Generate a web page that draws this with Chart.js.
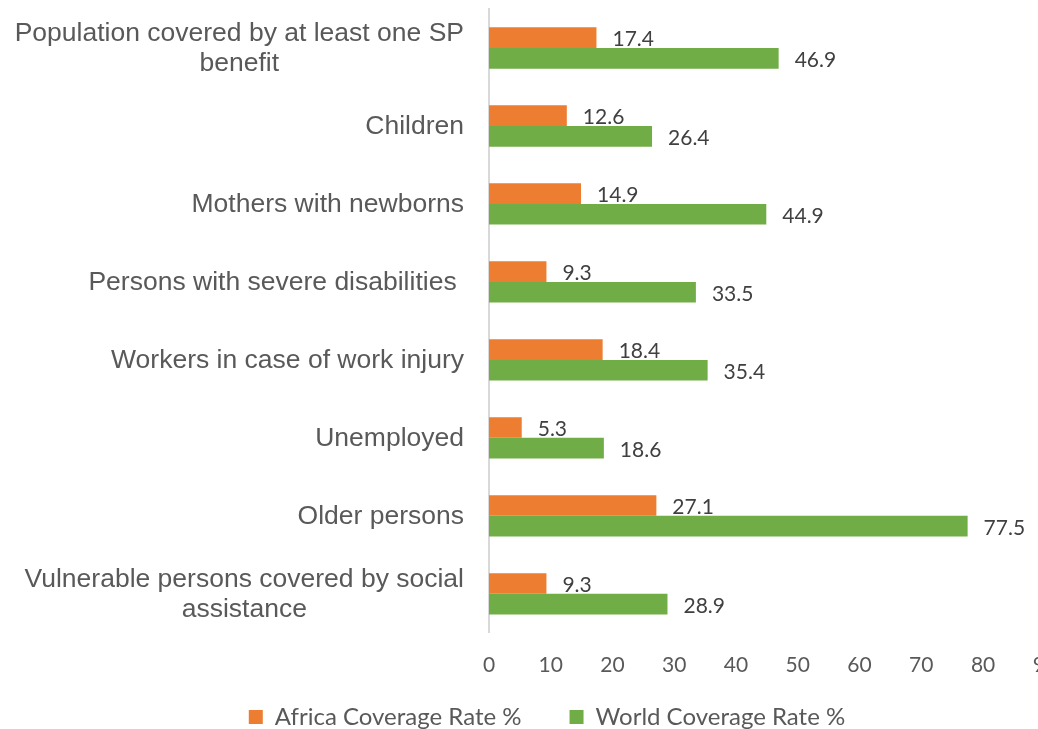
<!DOCTYPE html>
<html>
<head>
<meta charset="utf-8">
<title>Social protection coverage: Africa vs World</title>
<script src="https://cdn.jsdelivr.net/npm/chart.js@4/dist/chart.umd.min.js"></script>
<style>
  html, body { margin: 0; padding: 0; background: #ffffff; overflow: hidden; }
  #wrap { position: relative; width: 1077px; height: 780px; }
</style>
</head>
<body>
<div id="wrap"><canvas id="chart"></canvas></div>
<script>
// Coverage categories (multi-line entries are wrapped labels)
const categories = [
  ['Population covered by at least one SP', 'benefit'],
  ['Children'],
  ['Mothers with newborns'],
  ['Persons with severe disabilities '],
  ['Workers in case of work injury'],
  ['Unemployed'],
  ['Older persons'],
  ['Vulnerable persons covered by social', 'assistance']
];

// Coverage rates, in percent
const africaCoverage = [17.4, 12.6, 14.9, 9.3, 18.4, 5.3, 27.1, 9.3];
const worldCoverage  = [46.9, 26.4, 44.9, 33.5, 35.4, 18.6, 77.5, 28.9];

const seriesNames = ['Africa Coverage Rate %', 'World Coverage Rate %'];

// Value axis ticks
const xTicks = [0, 10, 20, 30, 40, 50, 60, 70, 80, 90];

const ORANGE = '#ED7D31';
const GREEN = '#70AD47';
const LABEL_GREY = '#595959';
const VALUE_GREY = '#404040';

// Category labels: right-aligned blocks, wrapped lines centred on each other
const categoryLabels = {
  id: 'categoryLabels',
  afterDraw(chart) {
    const ctx = chart.ctx;
    const yScale = chart.scales.y;
    const rightX = yScale.right - 25;
    const lineH = 30;
    ctx.save();
    ctx.font = '26.5px "Liberation Sans", Arial, sans-serif';
    ctx.fillStyle = LABEL_GREY;
    ctx.textAlign = 'center';
    ctx.textBaseline = 'middle';
    categories.forEach((lines, i) => {
      const cy = yScale.getPixelForValue(i);
      const widest = Math.max(...lines.map(l => ctx.measureText(l).width));
      const cx = rightX - widest / 2;
      const y0 = cy - (lines.length - 1) * lineH / 2;
      lines.forEach((l, k) => ctx.fillText(l, cx, y0 + k * lineH + 1));
    });
    ctx.restore();
  }
};

// Value labels at the end of each bar
const valueLabels = {
  id: 'valueLabels',
  afterDatasetsDraw(chart) {
    const ctx = chart.ctx;
    ctx.save();
    ctx.font = '21px Lato, "Open Sans", sans-serif';
    ctx.fillStyle = VALUE_GREY;
    ctx.textAlign = 'left';
    ctx.textBaseline = 'middle';
    chart.data.datasets.forEach((ds, di) => {
      const meta = chart.getDatasetMeta(di);
      meta.data.forEach((bar, j) => {
        ctx.fillText(ds.data[j].toFixed(1), bar.x + 16, bar.y + 2);
      });
    });
    ctx.restore();
  }
};

// Pull the legend row up closer to the axis labels
const legendOffset = {
  id: 'legendOffset',
  afterLayout(chart) {
    const lg = chart.legend;
    if (lg) { lg.top -= 41; lg.bottom -= 41; }
  }
};

new Chart(document.getElementById('chart'), {
  type: 'bar',
  data: {
    labels: categories.map(c => c.join(' ')),
    datasets: [
      { label: seriesNames[0], data: africaCoverage, backgroundColor: ORANGE, borderWidth: 0,
        categoryPercentage: 0.53, barPercentage: 1.0 },
      { label: seriesNames[1], data: worldCoverage, backgroundColor: GREEN, borderWidth: 0,
        categoryPercentage: 0.53, barPercentage: 1.0 }
    ]
  },
  options: {
    indexAxis: 'y',
    responsive: true,
    maintainAspectRatio: false,
    animation: false,
    layout: { padding: { top: 9, left: 17, right: 0, bottom: 0 } },
    scales: {
      x: {
        min: 0,
        max: 90,
        afterBuildTicks(scale) { scale.ticks = xTicks.map(v => ({ value: v })); },
        grid: { display: false, drawTicks: false },
        border: { display: false },
        ticks: {
          padding: 20,
          maxRotation: 0,
          color: LABEL_GREY,
          font: { family: 'Lato, "Open Sans", sans-serif', size: 21 }
        }
      },
      y: {
        afterFit(scale) { scale.width = 472; },
        grid: { display: false, drawTicks: false },
        border: { display: true, color: '#d9d9d9', width: 2 },
        ticks: { display: false }
      }
    },
    plugins: {
      legend: {
        position: 'bottom',
        labels: {
          boxWidth: 14,
          boxHeight: 14,
          padding: 48,
          color: LABEL_GREY,
          font: { family: 'Lato, "Open Sans", sans-serif', size: 24 }
        }
      },
      tooltip: { enabled: false }
    }
  },
  plugins: [categoryLabels, valueLabels, legendOffset]
});
</script>
</body>
</html>
